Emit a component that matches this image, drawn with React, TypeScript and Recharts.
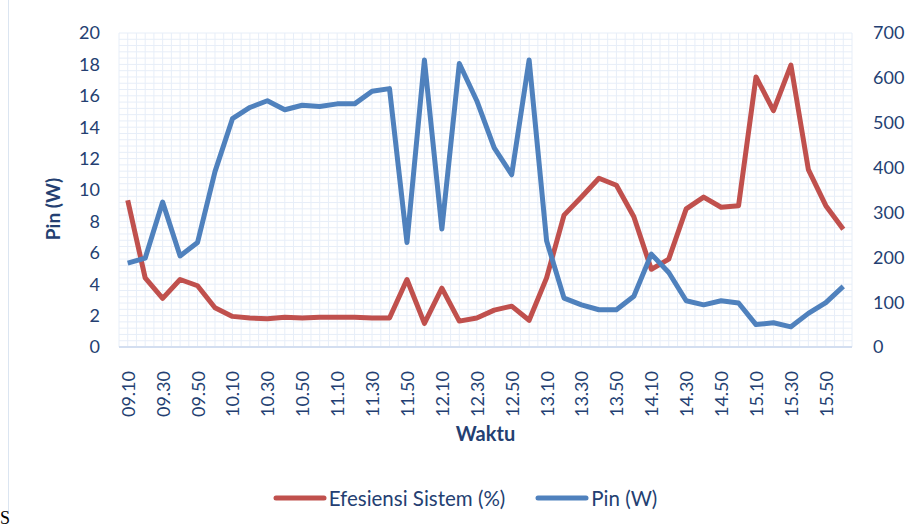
import React from "react";
import { LineChart, Line, XAxis, YAxis, CartesianGrid, Legend } from "recharts";

const waktu = [
  "09.10", "09.20", "09.30", "09.40", "09.50", "10.00",
  "10.10", "10.20", "10.30", "10.40", "10.50", "11.00",
  "11.10", "11.20", "11.30", "11.40", "11.50", "12.00",
  "12.10", "12.20", "12.30", "12.40", "12.50", "13.00",
  "13.10", "13.20", "13.30", "13.40", "13.50", "14.00",
  "14.10", "14.20", "14.30", "14.40", "14.50", "15.00",
  "15.10", "15.20", "15.30", "15.40", "15.50", "16.00",
];

const efisiensi = [
  9.35, 4.4, 3.1, 4.3, 3.9, 2.5, 1.95, 1.85, 1.8, 1.9, 1.85, 1.9, 1.9, 1.9,
  1.85, 1.85, 4.3, 1.5, 3.75, 1.65, 1.85, 2.35, 2.6, 1.7, 4.4, 8.4, 9.55, 10.75,
  10.3, 8.3, 4.95, 5.6, 8.8, 9.55, 8.9, 9.0, 17.2, 15.05, 17.95, 11.3, 9.0, 7.5,
];

const pin = [
  187, 198, 323, 203, 233, 391, 509, 534, 549, 529, 539, 536, 542, 542, 570,
  576, 233, 640, 263, 632, 549, 444, 384, 640, 237, 109, 94, 83, 83, 113, 207,
  166, 103, 94, 103, 98, 50, 54, 45, 75, 99, 135,
];

const leftTicks = [0, 2, 4, 6, 8, 10, 12, 14, 16, 18, 20];
const rightTicks = [0, 100, 200, 300, 400, 500, 600, 700];

const data = waktu.map((w, i) => ({ waktu: w, efisiensi: efisiensi[i], pin: pin[i] }));

const RED = "#c0504d";
const BLUE = "#4f81bd";
const TEXT = "#243f72";
const FONT = "Lato, 'Open Sans', sans-serif";

// tick label waktu, diputar -90 derajat
const TimeTick = ({ x, y, payload }: any) => (
  <text
    x={x}
    y={y + 16}
    transform={`rotate(-90, ${x}, ${y + 16})`}
    textAnchor="end"
    dominantBaseline="central"
    fontSize={18}
    fontFamily={FONT}
    fill={TEXT}
  >
    {payload.value}
  </text>
);

const PinLabel = ({ viewBox }: any) => {
  const cx = viewBox.x + 32;
  const cy = viewBox.y + viewBox.height / 2 + 19;
  return (
    <text
      x={cx}
      y={cy}
      transform={`rotate(-90, ${cx}, ${cy})`}
      textAnchor="middle"
      dominantBaseline="central"
      fontSize={19}
      fontWeight="bold"
      fontFamily={FONT}
      fill={TEXT}
    >
      Pin (W)
    </text>
  );
};

const LegendBox = ({ payload }: any) => (
  <div style={{ display: "flex", justifyContent: "center", gap: 30, fontFamily: FONT }}>
    {payload.map((p: any) => (
      <div key={p.value} style={{ display: "flex", alignItems: "center" }}>
        <svg width={54} height={8}>
          <line x1={3} y1={4} x2={51} y2={4} stroke={p.color} strokeWidth={5} strokeLinecap="round" />
        </svg>
        <span style={{ fontSize: 20.5, color: TEXT, marginLeft: 2 }}>{p.value}</span>
      </div>
    ))}
  </div>
);

export default function App() {
  return (
    <div style={{ position: "absolute", left: 0, top: 0, width: 910, height: 532, background: "#fff" }}>
      <div style={{ position: "absolute", left: 8, top: 0, height: 514, borderLeft: "1.5px solid #dbe5f1" }} />
      <span style={{ position: "absolute", left: 0, top: 508, fontSize: 18, lineHeight: "20px", fontFamily: "serif", color: "#000" }}>S</span>
      <LineChart
        width={910}
        height={532}
        data={data}
        margin={{ top: 33, right: 0, bottom: 22, left: 20 }}
        style={{ fontFamily: FONT }}
      >
        <CartesianGrid
          stroke="#e7eef8"
          strokeWidth={1}
          verticalCoordinatesGenerator={({ offset }: any) =>
            Array.from({ length: 85 }, (_, k) => offset.left + (k * offset.width) / 84)
          }
          horizontalCoordinatesGenerator={({ offset }: any) =>
            Array.from({ length: 51 }, (_, k) => offset.top + (k * offset.height) / 50)
          }
        />
        <XAxis
          dataKey="waktu"
          scale="band"
          interval={1}
          height={139}
          tickLine={false}
          axisLine={{ stroke: "#d3def0", strokeWidth: 2 }}
          tick={<TimeTick />}
          label={{
            value: "Waktu",
            position: "insideTop",
            offset: 80,
            fontSize: 20,
            fontWeight: "bold",
            fill: TEXT,
            fontFamily: FONT,
          }}
        />
        <YAxis
          yAxisId="left"
          width={99}
          domain={[0, 20]}
          ticks={leftTicks}
          interval={0}
          axisLine={false}
          tickLine={false}
          tickSize={0}
          tickMargin={19}
          tick={{ fontSize: 18, fill: TEXT, fontFamily: FONT }}
          label={<PinLabel />}
        />
        <YAxis
          yAxisId="right"
          orientation="right"
          width={58}
          domain={[0, 700]}
          ticks={rightTicks}
          interval={0}
          axisLine={false}
          tickLine={false}
          tickSize={0}
          tickMargin={21}
          tick={{ fontSize: 18, fill: TEXT, fontFamily: FONT, textAnchor: "start" }}
        />
        <Legend verticalAlign="bottom" content={<LegendBox />} />
        <Line
          yAxisId="left"
          type="linear"
          dataKey="efisiensi"
          name="Efesiensi Sistem (%)"
          stroke={RED}
          strokeWidth={5}
          strokeLinejoin="round"
          dot={false}
          isAnimationActive={false}
        />
        <Line
          yAxisId="right"
          type="linear"
          dataKey="pin"
          name="Pin (W)"
          stroke={BLUE}
          strokeWidth={5}
          strokeLinejoin="round"
          dot={false}
          isAnimationActive={false}
        />
      </LineChart>
    </div>
  );
}
